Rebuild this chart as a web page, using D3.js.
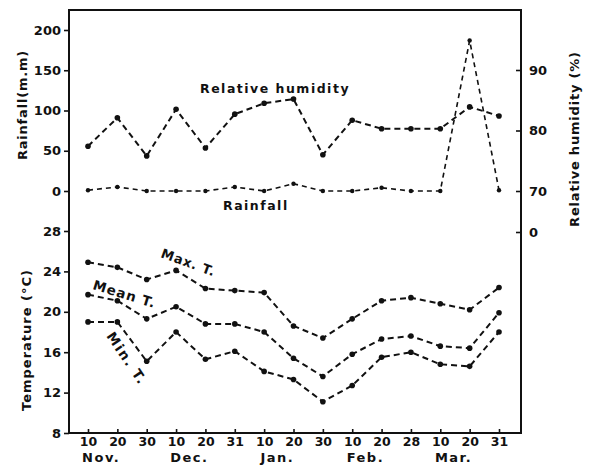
<!DOCTYPE html>
<html>
<head>
<meta charset="utf-8">
<script src="https://cdn.jsdelivr.net/npm/d3@7"></script>
<style>
  body { margin: 0; background: #fff; }
  svg text { font-family: "DejaVu Sans", sans-serif; font-weight: bold; fill: #111; }
</style>
</head>
<body>
<div id="chart"></div>
<script>
// === Data ===
const dayLabels = ["10", "20", "30", "10", "20", "31", "10", "20", "30", "10", "20", "28", "10", "20", "31"];
const monthLabels = ["Nov.", "Dec.", "Jan.", "Feb.", "Mar."];
const monthStartIndex = [0, 3, 6, 9, 12];

const rainfall = [1, 5, 0, 0, 0, 5, 0, 9, 0, 0, 4, 0, 0, 187, 1];              // mm
const humidity = [77.4, 82.1, 75.8, 83.5, 77.1, 82.7, 84.5, 85.2, 76.0, 81.7, 80.3, 80.3, 80.3, 83.9, 82.4]; // %
const maxT = [24.9, 24.4, 23.2, 24.1, 22.3, 22.1, 21.9, 18.6, 17.4, 19.3, 21.1, 21.4, 20.8, 20.2, 22.4];
const meanT = [21.7, 21.1, 19.3, 20.5, 18.8, 18.8, 18.0, 15.4, 13.6, 15.8, 17.3, 17.6, 16.6, 16.4, 19.9];
const minT = [19.0, 19.0, 15.1, 18.0, 15.3, 16.1, 14.1, 13.3, 11.1, 12.7, 15.5, 16.0, 14.8, 14.6, 18.0];

const rainTicks = [0, 50, 100, 150, 200];
const tempTicks = [8, 12, 16, 20, 24, 28];
const humidityTicks = [70, 80, 90];

// === Layout ===
const W = 591, H = 466;
const frameLeft = 69, frameRight = 521, frameTop = 10, frameBottom = 433;

const svg = d3.select("#chart").append("svg")
    .attr("width", W)
    .attr("height", H);

// x positions: evenly spaced 10-day periods
const x = d3.scalePoint()
    .domain(d3.range(dayLabels.length))
    .range([88, 499]);

// upper panel scales
const yRain = d3.scaleLinear().domain([0, 200]).range([191, 30]);
const yRH = d3.scaleLinear().domain([70, 90]).range([191, 70]);
const yRH0 = d3.scaleLinear().domain([0, 70]).range([232, 191]); // broken part of RH axis
// lower panel scale
const yT = d3.scaleLinear().domain([8, 28]).range([frameBottom, 231]);

// frame
svg.append("path")
    .attr("d", `M${frameLeft},${frameTop}H${frameRight}V${frameBottom}H${frameLeft}Z`)
    .attr("fill", "none")
    .attr("stroke", "#111")
    .attr("stroke-width", 2);

// helper to style axes
function styleAxis(g, size) {
    g.select(".domain").remove();
    g.selectAll(".tick line").attr("stroke", "#111").attr("stroke-width", 1.6);
    g.selectAll(".tick text").style("font-size", size + "px");
}

// left axes
svg.append("g")
    .attr("transform", `translate(${frameLeft},0)`)
    .call(d3.axisLeft(yRain).tickValues(rainTicks).tickSize(5).tickPadding(3))
    .call(g => styleAxis(g, 13));

svg.append("g")
    .attr("transform", `translate(${frameLeft},0)`)
    .call(d3.axisLeft(yT).tickValues(tempTicks).tickSize(5).tickPadding(3))
    .call(g => styleAxis(g, 13));

// right axis (humidity), ticks point inward
svg.append("g")
    .attr("transform", `translate(${frameRight},0)`)
    .call(d3.axisRight(yRH).tickValues(humidityTicks).tickSize(-5).tickPadding(8))
    .call(g => styleAxis(g, 13));

svg.append("g")
    .attr("transform", `translate(${frameRight},0)`)
    .call(d3.axisRight(yRH0).tickValues([0]).tickSize(-5).tickPadding(8))
    .call(g => styleAxis(g, 13));

// bottom axis: day ticks
svg.append("g")
    .attr("transform", `translate(0,${frameBottom})`)
    .call(d3.axisBottom(x).tickFormat(i => dayLabels[i]).tickSize(-4).tickPadding(4))
    .call(g => styleAxis(g, 12.5));

// month labels
const step = x.step();
svg.append("g").selectAll("text")
    .data(monthLabels)
    .join("text")
    .attr("x", (d, i) => x(monthStartIndex[i]) + step * 0.45)
    .attr("y", 462)
    .attr("text-anchor", "middle")
    .style("font-size", "13px")
    .style("letter-spacing", "1.5px")
    .text(d => d);

// === Series ===
function drawSeries(values, yScale, dash, width, r) {
    const line = d3.line()
        .x((d, i) => x(i))
        .y(d => yScale(d));

    svg.append("path")
        .datum(values)
        .attr("fill", "none")
        .attr("stroke", "#111")
        .attr("stroke-width", width)
        .attr("stroke-dasharray", dash)
        .attr("d", line);

    svg.append("g").selectAll("circle")
        .data(values)
        .join("circle")
        .attr("cx", (d, i) => x(i))
        .attr("cy", d => yScale(d))
        .attr("r", r)
        .attr("fill", "#111");
}

drawSeries(humidity, yRH, "6,4", 2, 2.8);
drawSeries(rainfall, yRain, "5,4", 1.6, 2.2);
drawSeries(maxT, yT, "6,4", 2, 2.8);
drawSeries(meanT, yT, "6,4", 2, 2.8);
drawSeries(minT, yT, "6,4", 2, 2.8);

// === Labels ===
svg.append("text")
    .attr("x", 200).attr("y", 93)
    .style("font-size", "12.5px")
    .style("letter-spacing", "1.5px")
    .text("Relative humidity");

svg.append("text")
    .attr("x", 223).attr("y", 210)
    .style("font-size", "12.5px")
    .style("letter-spacing", "1.5px")
    .text("Rainfall");

svg.append("text")
    .attr("transform", "translate(160,257) rotate(20)")
    .style("font-size", "13px")
    .style("letter-spacing", "0.8px")
    .text("Max. T.");

svg.append("text")
    .attr("transform", "translate(92,289) rotate(17)")
    .style("font-size", "13.5px")
    .style("letter-spacing", "1px")
    .text("Mean T.");

svg.append("text")
    .attr("transform", "translate(106,336) rotate(56)")
    .style("font-size", "13.5px")
    .style("letter-spacing", "1.5px")
    .text("Min. T.");

// axis titles
svg.append("text")
    .attr("transform", "translate(27,105) rotate(-90)")
    .attr("text-anchor", "middle")
    .style("font-size", "13px")
    .style("letter-spacing", "0.8px")
    .text("Rainfall(m.m)");

svg.append("text")
    .attr("transform", "translate(31,340) rotate(-90)")
    .attr("text-anchor", "middle")
    .style("font-size", "13px")
    .style("letter-spacing", "1px")
    .text("Temperature (°C)");

svg.append("text")
    .attr("transform", "translate(579,139) rotate(-90)")
    .attr("text-anchor", "middle")
    .style("font-size", "13px")
    .style("letter-spacing", "0.8px")
    .text("Relative humidity (%)");
</script>
</body>
</html>
